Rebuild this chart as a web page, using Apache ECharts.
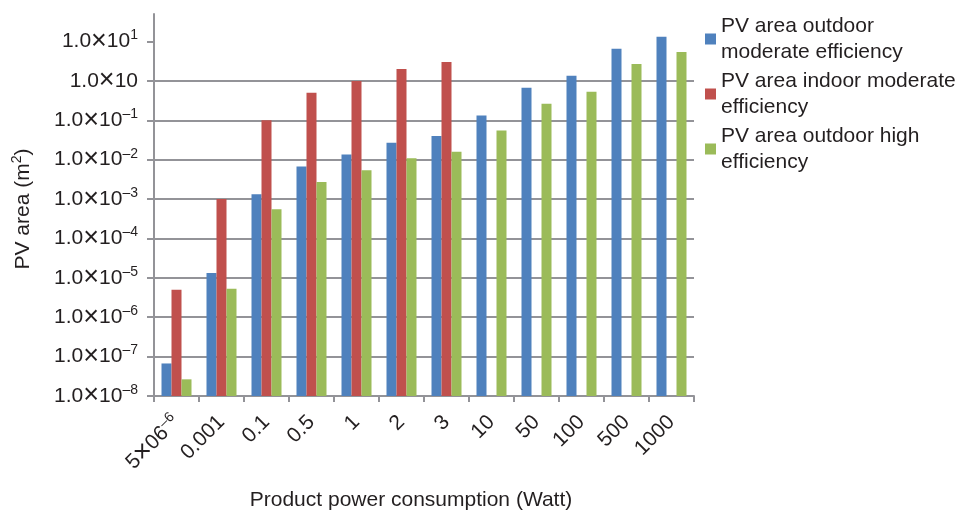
<!DOCTYPE html>
<html>
<head>
<meta charset="utf-8">
<script src="https://cdn.jsdelivr.net/npm/echarts@6/dist/echarts.min.js"></script>
<style>
  html, body { margin: 0; padding: 0; background: #fff; }
  #chart { width: 962px; height: 516px; }
</style>
</head>
<body>
<div id="chart"></div>
<script>
// Product power consumption classes (Watt)
const categories = ['5×06⁻⁶', '0.001', '0.1', '0.5', '1', '2', '3', '10', '50', '100', '500', '1000'];

// Required PV area (m²) per product class
const outdoorModerate = [6.7e-8, 1.33e-5, 1.33e-3, 6.7e-3, 0.0135, 0.027, 0.04, 0.133, 0.67, 1.35, 6.6, 13.2];
const indoorModerate = [5e-6, 1e-3, 0.1, 0.5, 1, 2, 3, null, null, null, null, null];
const outdoorHigh = [2.65e-8, 5.3e-6, 5.5e-4, 2.7e-3, 5.4e-3, 0.0108, 0.016, 0.055, 0.265, 0.53, 2.7, 5.4];

const seriesNames = [
  'PV area outdoor moderate efficiency',
  'PV area indoor moderate efficiency',
  'PV area outdoor high efficiency'
];
const legendLines = {
  'PV area outdoor moderate efficiency': 'PV area outdoor\nmoderate efficiency',
  'PV area indoor moderate efficiency': 'PV area indoor moderate\nefficiency',
  'PV area outdoor high efficiency': 'PV area outdoor high\nefficiency'
};

// Value-axis tick labels: 1.0×10 raised to these exponents
const yTickValues = [1e-8, 1e-7, 1e-6, 1e-5, 1e-4, 1e-3, 1e-2, 1e-1, 1, 10];
const yTickExponents = ['–8', '–7', '–6', '–5', '–4', '–3', '–2', '–1', '', '1'];

const colors = ['#4F81BD', '#C0504D', '#9BBB59'];
const axisGray = '#939398';
const textColor = '#231f20';
const fontFamily = '"Liberation Sans", Arial, Helvetica, sans-serif';

const richStyles = {
  sup: { fontSize: 14, verticalAlign: 'top', lineHeight: 15, fontFamily: fontFamily, color: textColor },
  times: { fontSize: 27, lineHeight: 26, fontFamily: fontFamily, color: textColor }
};

const superscriptDigits = { '⁻': '–', '⁰': '0', '¹': '1', '²': '2', '³': '3', '⁴': '4', '⁵': '5', '⁶': '6', '⁷': '7', '⁸': '8', '⁹': '9' };
function withTimes(s) {
  return s.replace(/×/g, '{times|×}');
}
function categoryLabel(s) {
  return withTimes(s).replace(/[⁻⁰¹²³⁴⁵⁶⁷⁸⁹]+/g,
    m => '{sup|' + m.split('').map(c => superscriptDigits[c]).join('') + '}');
}

function yLabel(v) {
  const i = yTickValues.findIndex(t => Math.abs(Math.log10(t) - Math.log10(v)) < 1e-6);
  if (i < 0) return '';
  const e = yTickExponents[i];
  return withTimes('1.0×10') + (e ? '{sup|' + e + '}' : '');
}

function makeSeries(name, data, color) {
  return {
    name: name,
    type: 'bar',
    data: data,
    barWidth: 10,
    barGap: '0%',
    itemStyle: { color: color },
    emphasis: { disabled: true }
  };
}

const chart = echarts.init(document.getElementById('chart'), null, { renderer: 'canvas' });
chart.setOption({
  animation: false,
  backgroundColor: '#ffffff',
  textStyle: { fontFamily: fontFamily },
  grid: { left: 154, right: 268, top: 14, bottom: 118 },
  legend: {
    orient: 'vertical',
    left: 705,
    top: 0,
    padding: 0,
    itemGap: -23,
    itemWidth: 11,
    itemHeight: 11,
    icon: 'rect',
    selectedMode: false,
    data: seriesNames,
    formatter: name => legendLines[name],
    textStyle: {
      fontSize: 21,
      lineHeight: 26,
      color: textColor,
      fontFamily: fontFamily,
      padding: [26, 0, 0, 0]
    }
  },
  xAxis: {
    type: 'category',
    data: categories,
    name: 'Product power consumption (Watt)',
    nameLocation: 'middle',
    nameGap: 94,
    nameTextStyle: { fontSize: 21, color: textColor, fontFamily: fontFamily, padding: [0, 26, 0, 0] },
    axisLine: { lineStyle: { color: axisGray, width: 2 } },
    axisTick: { show: true, length: 6, lineStyle: { color: axisGray, width: 2 } },
    axisLabel: {
      rotate: 45,
      margin: 23,
      fontSize: 21,
      lineHeight: 26,
      color: textColor,
      fontFamily: fontFamily,
      interval: 0,
      formatter: categoryLabel,
      rich: richStyles
    },
    splitLine: { show: false }
  },
  yAxis: {
    type: 'log',
    logBase: 10,
    min: 1e-8,
    max: 50,
    startValue: 1e-8,
    splitNumber: 10,
    name: 'PV area (m{sup|2})',
    nameLocation: 'middle',
    nameGap: 118,
    nameRotate: 90,
    nameTextStyle: {
      fontSize: 21,
      lineHeight: 26,
      color: textColor,
      fontFamily: fontFamily,
      padding: [0, 8, 0, 0],
      rich: richStyles
    },
    axisLine: { show: true, lineStyle: { color: axisGray, width: 2 } },
    axisTick: { show: true, length: 7, lineStyle: { color: axisGray, width: 2 }, customValues: yTickValues },
    axisLabel: {
      margin: 16,
      fontSize: 21,
      lineHeight: 26,
      color: textColor,
      fontFamily: fontFamily,
      customValues: yTickValues,
      formatter: yLabel,
      rich: richStyles
    },
    splitLine: { show: true, showMaxLine: false, lineStyle: { color: axisGray, width: 2 } }
  },
  series: [
    makeSeries(seriesNames[0], outdoorModerate, colors[0]),
    makeSeries(seriesNames[1], indoorModerate, colors[1]),
    makeSeries(seriesNames[2], outdoorHigh, colors[2])
  ]
});
</script>
</body>
</html>
